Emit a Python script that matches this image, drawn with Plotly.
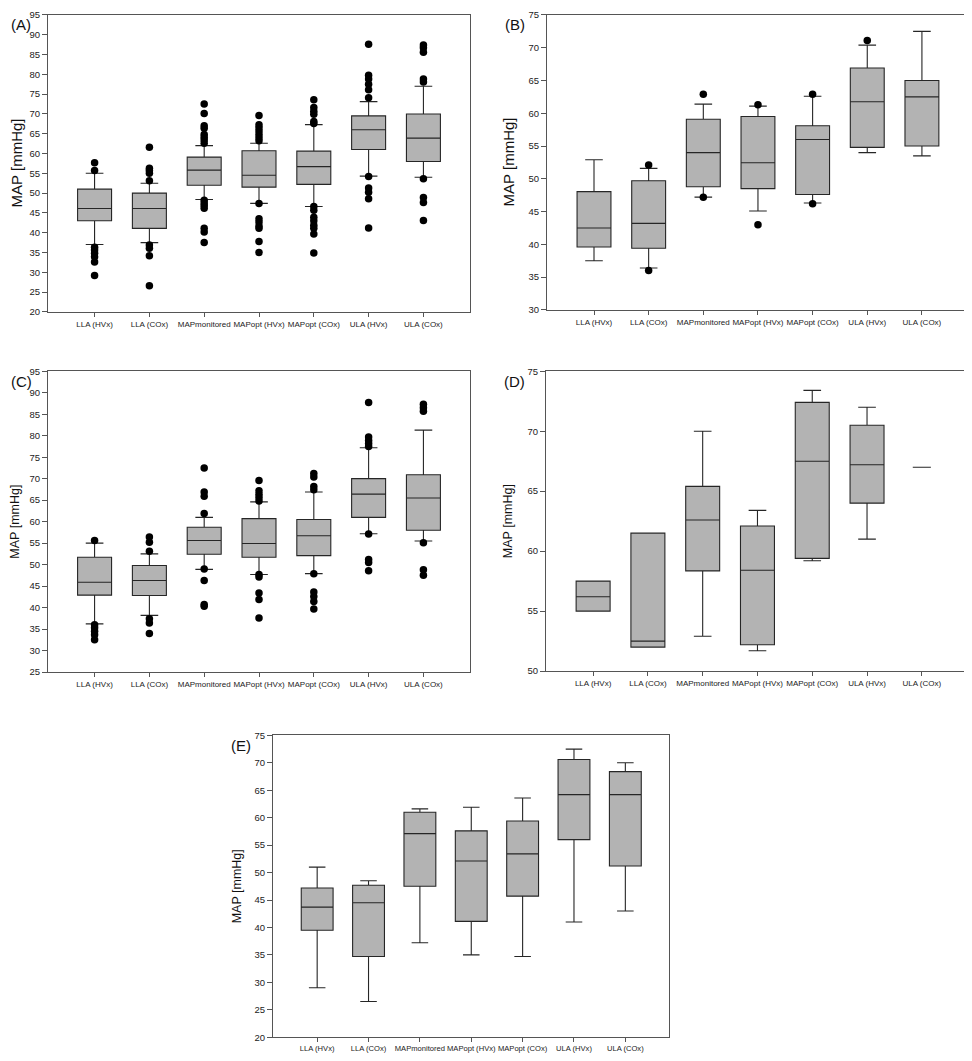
import plotly.graph_objects as go

categories = ["LLA (HVx)", "LLA (COx)", "MAPmonitored", "MAPopt (HVx)",
              "MAPopt (COx)", "ULA (HVx)", "ULA (COx)"]

# ---------- Panel A ----------
A_q1 = [43.0, 41.1, 52.0, 51.5, 52.2, 61.0, 58.0]
A_med = [46.1, 46.1, 55.8, 54.5, 56.7, 66.0, 63.9]
A_q3 = [51.0, 50.0, 59.1, 60.7, 60.6, 69.5, 70.0]
A_lo = [37.0, 37.5, 48.4, 47.4, 46.6, 54.3, 54.0]
A_hi = [55.0, 52.5, 62.0, 62.6, 67.3, 73.1, 77.0]
A_out = [
    [57.7, 55.7, 36.3, 35.6, 34.8, 33.9, 32.6, 29.2],
    [61.6, 56.3, 55.7, 55.0, 53.1, 36.9, 36.1, 34.2, 26.6],
    [72.5, 70.1, 67.0, 66.4, 64.8, 64.1, 63.4, 62.6, 48.2, 47.5, 46.9, 46.2, 41.1, 40.2, 37.5],
    [69.6, 67.3, 66.5, 65.7, 64.8, 64.0, 63.2, 47.4, 43.5, 42.7, 41.7, 41.1, 37.8, 35.0],
    [73.6, 71.6, 70.7, 69.9, 68.1, 67.6, 46.6, 45.7, 43.9, 43.0, 41.9, 41.1, 39.7, 34.9],
    [87.6, 79.8, 78.8, 77.5, 76.1, 74.1, 54.2, 51.3, 50.2, 48.6, 41.2],
    [87.4, 86.7, 85.6, 78.8, 78.1, 53.6, 48.9, 47.6, 43.1],
]

# ---------- Panel B ----------
B_q1 = [39.6, 39.4, 48.8, 48.5, 47.6, 54.8, 55.0]
B_med = [42.5, 43.2, 54.0, 52.45, 56.0, 61.75, 62.5]
B_q3 = [48.05, 49.7, 59.1, 59.5, 58.1, 66.9, 65.0]
B_lo = [37.5, 36.4, 47.2, 45.1, 46.3, 54.0, 53.5]
B_hi = [52.9, 51.6, 61.4, 61.1, 62.6, 70.4, 72.5]
B_out = [
    [],
    [52.1, 36.0],
    [62.9, 47.2],
    [61.3, 43.0],
    [62.9, 46.2],
    [71.1],
    [],
]

# ---------- Panel C ----------
C_q1 = [42.9, 42.8, 52.4, 51.7, 52.1, 61.0, 58.0]
C_med = [45.9, 46.3, 55.6, 54.9, 56.7, 66.4, 65.5]
C_q3 = [51.7, 49.8, 58.7, 60.7, 60.5, 70.0, 70.9]
C_lo = [36.2, 38.2, 48.9, 47.7, 47.9, 57.2, 55.5]
C_hi = [55.0, 52.5, 61.0, 64.6, 66.9, 77.2, 81.3]
C_out = [
    [55.6, 36.0, 35.3, 34.5, 33.7, 32.5],
    [56.4, 55.2, 53.1, 37.4, 36.4, 34.0],
    [72.5, 66.9, 65.9, 61.9, 49.0, 46.3, 40.7, 40.3],
    [69.6, 67.2, 66.4, 65.6, 64.8, 47.7, 47.1, 43.4, 41.9, 37.6],
    [71.2, 70.4, 68.2, 67.4, 47.9, 43.6, 42.6, 41.4, 39.7],
    [87.7, 79.7, 78.9, 78.2, 77.5, 57.1, 51.2, 50.5, 48.6],
    [87.3, 86.5, 85.7, 55.1, 48.8, 47.5],
]

# ---------- Panel D ----------
D_q1 = [55.0, 52.0, 58.35, 52.2, 59.4, 64.0]
D_med = [56.2, 52.5, 62.6, 58.4, 67.5, 67.2]
D_q3 = [57.5, 61.5, 65.4, 62.1, 72.4, 70.5]
D_lo = [55.0, 52.0, 52.9, 51.7, 59.2, 61.0]
D_hi = [57.5, 61.5, 70.0, 63.4, 73.4, 72.0]
D_single = [67.0]   # ULA (COx): one value only

# ---------- Panel E ----------
E_q1 = [39.5, 34.7, 47.5, 41.1, 45.7, 56.0, 51.2]
E_med = [43.7, 44.5, 57.1, 52.1, 53.4, 64.2, 64.2]
E_q3 = [47.2, 47.7, 61.0, 57.6, 59.4, 70.6, 68.4]
E_lo = [29.0, 26.5, 37.2, 35.0, 34.7, 41.0, 43.0]
E_hi = [51.0, 48.5, 61.6, 61.9, 63.6, 72.5, 70.0]

panel_letters = ["(A)", "(B)", "(C)", "(D)", "(E)"]

# the page body has an 8px margin; the figure fills the rest of the window
OFF = 8
W, H = 972 - OFF, 1061 - OFF
BOX_FILL = "#b3b3b3"
BOX_LINE = "#262626"
AXIS_LINE = "#555555"

fig = go.Figure()

def px_x(p):
    return min(1.0, max(0.0, (p - OFF) / W))

def px_y(p):
    return min(1.0, max(0.0, 1 - (p - OFF) / H))

# panel geometry in window pixels: (left, right, top, bottom), y-title centre x
panels = [
    dict(ax="", box=(48, 470, 9, 309), yr=(20, 95), xr=(-0.85, 6.85), tfs=15, xfs=8.0,
         tx=16, q=(A_q1, A_med, A_q3, A_lo, A_hi), out=A_out),
    dict(ax="2", box=(547, 964, 9, 307), yr=(30, 75), xr=(-0.86, 6.77), tfs=15, xfs=8.0,
         tx=508, q=(B_q1, B_med, B_q3, B_lo, B_hi), out=B_out),
    dict(ax="3", box=(48, 470, 369, 673), yr=(25, 95), xr=(-0.85, 6.85), tfs=12.5, xfs=8.0,
         tx=15, q=(C_q1, C_med, C_q3, C_lo, C_hi), out=C_out),
    dict(ax="4", box=(546, 964, 369, 672), yr=(50, 75), xr=(-0.86, 6.77), tfs=12.5, xfs=8.0,
         tx=508, q=(D_q1, D_med, D_q3, D_lo, D_hi), out=None),
    dict(ax="5", box=(273, 669, 737, 1042), yr=(20, 75), xr=(-0.86, 6.85), tfs=12.5, xfs=7.6,
         tx=237, q=(E_q1, E_med, E_q3, E_lo, E_hi), out=None),
]

FONT = "Liberation Sans, Arial, sans-serif"
tick_font = dict(family=FONT, size=9.5, color="#222")

annotations = []
layout_axes = {}
for i, p in enumerate(panels):
    ax = p["ax"]
    l, r, t, b = p["box"]
    q1, med, q3, lo, hi = p["q"]
    n = len(q1)
    xs = list(range(n))
    fig.add_trace(go.Box(
        x=xs, q1=q1, median=med, q3=q3, lowerfence=lo, upperfence=hi,
        width=0.62, whiskerwidth=0.52, fillcolor=BOX_FILL,
        line=dict(color=BOX_LINE, width=1.1), boxpoints=False,
        xaxis="x" + ax, yaxis="y" + ax, showlegend=False, hoverinfo="skip",
    ))
    if p["out"] is not None:
        ox, oy = [], []
        for k, vals in enumerate(p["out"]):
            ox += [k] * len(vals)
            oy += vals
        fig.add_trace(go.Scatter(
            x=ox, y=oy, mode="markers",
            marker=dict(color="black", size=7.5),
            xaxis="x" + ax, yaxis="y" + ax, showlegend=False, hoverinfo="skip",
        ))
    if i == 3:
        # single-value category drawn as a short line
        fig.add_trace(go.Box(
            x=[6], q1=D_single, median=D_single, q3=D_single,
            lowerfence=D_single, upperfence=D_single,
            width=0.33, fillcolor=BOX_FILL, line=dict(color=BOX_LINE, width=1.1),
            boxpoints=False, xaxis="x" + ax, yaxis="y" + ax,
            showlegend=False, hoverinfo="skip",
        ))

    xa = dict(domain=[px_x(l), px_x(r)], range=list(p["xr"]), anchor="y" + ax,
              tickmode="array", tickvals=list(range(7)), ticktext=categories,
              showline=True, mirror=True, linecolor=AXIS_LINE, linewidth=1.2,
              ticks="outside", ticklen=4, tickcolor=AXIS_LINE, showgrid=False,
              zeroline=False, tickfont=dict(family=FONT, size=p["xfs"], color="#222"),
              tickangle=0)
    ya = dict(domain=[px_y(b), px_y(t)], range=list(p["yr"]), anchor="x" + ax,
              dtick=5, tick0=0, showline=True, mirror=True, linecolor=AXIS_LINE,
              linewidth=1.2, ticks="outside", ticklen=5, tickcolor=AXIS_LINE,
              showgrid=False, zeroline=False, tickfont=tick_font)
    layout_axes["xaxis" + ax] = xa
    layout_axes["yaxis" + ax] = ya

    # panel letter
    annotations.append(dict(
        text=panel_letters[i], xref="paper", yref="paper",
        x=px_x(max(l - 44, OFF + 1)), y=px_y(max(t, 4) + 10), xanchor="left",
        yanchor="middle", showarrow=False,
        font=dict(family=FONT, size=15, color="#111")))
    # y title
    annotations.append(dict(
        text="MAP [mmHg]", xref="paper", yref="paper",
        x=px_x(p["tx"]), y=px_y((t + b) / 2),
        xanchor="center", yanchor="middle", textangle=-90, showarrow=False,
        font=dict(family=FONT, size=p["tfs"], color="#111")))

fig.update_layout(
    width=W, height=H, margin=dict(l=0, r=0, t=0, b=0),
    paper_bgcolor="white", plot_bgcolor="white",
    annotations=annotations, **layout_axes,
)

fig.write_html("out.html")
